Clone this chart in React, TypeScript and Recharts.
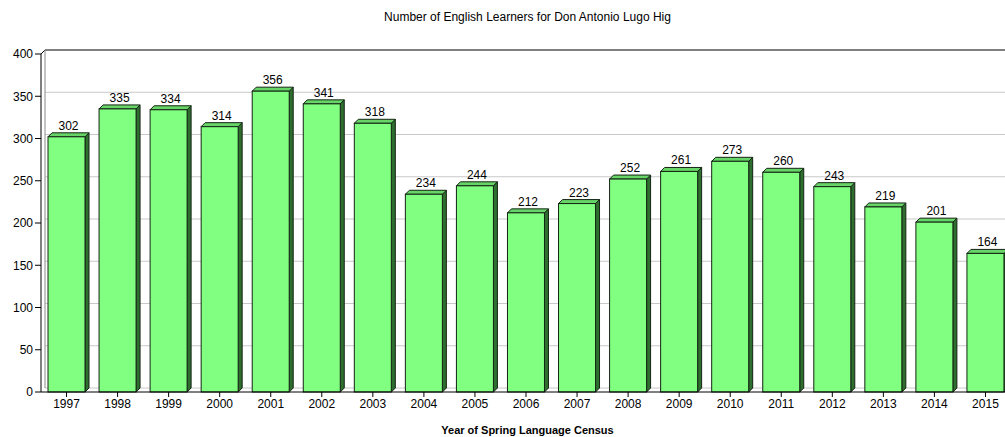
import { BarChart, Bar, XAxis, YAxis, CartesianGrid, LabelList } from 'recharts'

const YEARS = ['1997', '1998', '1999', '2000', '2001', '2002', '2003', '2004', '2005', '2006',
  '2007', '2008', '2009', '2010', '2011', '2012', '2013', '2014', '2015']
const LEARNERS = [302, 335, 334, 314, 356, 341, 318, 234, 244, 212, 223, 252, 261, 273, 260, 243, 219, 201, 164]
const Y_TICKS = [0, 50, 100, 150, 200, 250, 300, 350, 400]

const data = YEARS.map((year, i) => ({ year, learners: LEARNERS[i] }))

const DEPTH = 4
const FONT = 'Liberation Sans, Arial, sans-serif'
const PLOT_TOP = 54
const PLOT_BOTTOM = 392

// 3d looking bar: front face, top face, right side
function Bar3D(props: any) {
  const { x, y, width: w, height: h } = props
  if (h <= 0) return null
  const d = DEPTH
  return (
    <g>
      <polygon
        points={`${x + w},${y} ${x + w + d},${y - d} ${x + w + d},${y + h - d} ${x + w},${y + h}`}
        fill="#2e6e2e" stroke="#142414" strokeWidth={1}
      />
      <polygon
        points={`${x},${y} ${x + d},${y - d} ${x + w + d},${y - d} ${x + w},${y}`}
        fill="#66d466" stroke="#142414" strokeWidth={1}
      />
      <rect x={x} y={y} width={w} height={h} fill="#80ff80" stroke="#142414" strokeWidth={1} />
    </g>
  )
}

function gridLine(p: any) {
  const y = p.y1 - DEPTH
  const isTop = Math.abs(p.y1 - PLOT_TOP) < 1
  if (isTop) {
    return (
      <g key={p.key}>
        <line x1={p.x1} y1={p.y1} x2={p.x1 + DEPTH} y2={y} stroke="#000" />
        <line x1={p.x1 + DEPTH} y1={y} x2={p.x2 + 10} y2={y} stroke="#000" />
        <line x1={p.x1 + DEPTH} y1={y} x2={p.x1 + DEPTH} y2={PLOT_BOTTOM - DEPTH} stroke="#888" />
      </g>
    )
  }
  return <line key={p.key} x1={p.x1 + DEPTH} y1={y} x2={p.x2 + 10} y2={y} stroke="#c8c8c8" />
}

function valueLabel(p: any) {
  const { x, y, width, value } = p
  return (
    <text x={x + width / 2 + 2} y={y - DEPTH - 3} textAnchor="middle" fontSize={12} fontFamily={FONT} fill="#000">
      {value}
    </text>
  )
}

export default function App() {
  return (
    <div style={{ position: 'absolute', left: 0, top: 0, width: 1005, height: 437, overflow: 'hidden', background: '#fff', fontFamily: FONT }}>
      <div style={{ position: 'absolute', left: 0, width: 1055, top: 10, textAlign: 'center', fontSize: 12, color: '#000' }}>
        Number of English Learners for Don Antonio Lugo Hig
      </div>
      <BarChart
        width={1011}
        height={437}
        data={data}
        margin={{ top: PLOT_TOP, right: 0, left: 0, bottom: 15 }}
        barCategoryGap={0}
      >
        <CartesianGrid vertical={false} horizontal={gridLine} />
        <XAxis
          dataKey="year"
          height={30}
          axisLine={{ stroke: '#000' }}
          tickLine={{ stroke: '#000' }}
          tickSize={5}
          tick={{ fontSize: 12, fill: '#000', fontFamily: FONT }}
          interval={0}
        />
        <YAxis
          width={41}
          domain={[0, 400]}
          ticks={Y_TICKS}
          axisLine={{ stroke: '#000' }}
          tickLine={{ stroke: '#000' }}
          tickSize={6}
          tick={{ fontSize: 12, fill: '#000', fontFamily: FONT }}
        />
        <Bar dataKey="learners" barSize={37} shape={Bar3D} isAnimationActive={false}>
          <LabelList dataKey="learners" content={valueLabel} />
        </Bar>
      </BarChart>
      <div style={{ position: 'absolute', left: 0, width: 1055, top: 424, textAlign: 'center', fontSize: 11, fontWeight: 'bold', color: '#000' }}>
        Year of Spring Language Census
      </div>
    </div>
  )
}
